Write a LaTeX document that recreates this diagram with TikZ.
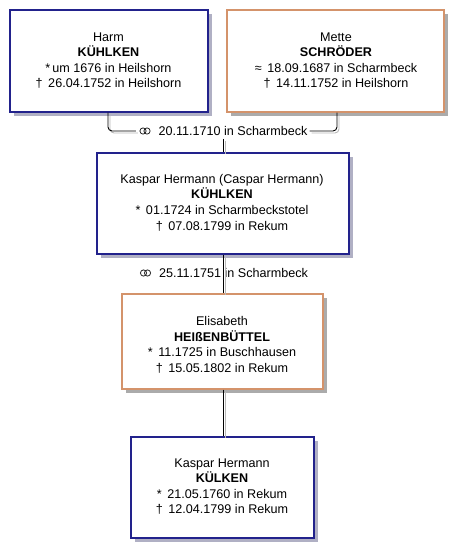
\documentclass[tikz,border=0pt]{standalone}
\usepackage{fontspec}
\setmainfont{Liberation Sans}
\usetikzlibrary{shadows}
\definecolor{navy}{HTML}{22228C}
\definecolor{tanline}{HTML}{D4936B}
\definecolor{shadowgray}{HTML}{ABABAB}
\definecolor{shadowblue}{HTML}{B0B0C4}
\definecolor{lineshadow}{HTML}{B8B8B8}
\begin{document}
\begin{tikzpicture}[x=1pt,y=-1pt,
  box/.style={draw, line width=1.2pt, fill=white, inner sep=0pt, anchor=center},
  mbox/.style={box, draw=navy, drop shadow={shadow xshift=3.5pt, shadow yshift=-3.5pt, fill=shadowblue, opacity=1}},
  fbox/.style={box, draw=tanline, drop shadow={shadow xshift=3.5pt, shadow yshift=-3.5pt, fill=shadowgray, opacity=1}},
  txt/.style={align=center, inner sep=0pt, font=\fontsize{12.6}{15.6}\selectfont},
  conn/.style={line width=0.9pt, black},
  connsh/.style={line width=0.9pt, lineshadow, transform canvas={xshift=2pt, yshift=-2pt}},
  ring/.style={draw=black!85, line width=0.8pt},
]
\useasboundingbox (0,0) rectangle (464,558);

% boxes
\node[mbox, minimum width=198pt, minimum height=102pt] (harm) at (109,61) {};
\node[fbox, minimum width=217pt, minimum height=102pt] (mette) at (335.5,61) {};
\node[mbox, minimum width=252pt, minimum height=101pt] (kaspar) at (223,203.5) {};
\node[fbox, minimum width=201pt, minimum height=95pt] (elis) at (222.5,341.5) {};
\node[mbox, minimum width=183pt, minimum height=101pt] (kulken) at (222.5,487.5) {};

% texts
\node[txt] (harmT) at (108.5,60.5) {Harm\\\textbf{KÜHLKEN}\\{*}\,um 1676 in Heilshorn\\† \,26.04.1752 in Heilshorn};
\node[txt] (metteT) at (336,60.5) {Mette\\\textbf{SCHRÖDER}\\≈ \,18.09.1687 in Scharmbeck\\† \,14.11.1752 in Heilshorn};
\node[txt] (kasparT) at (222,202.5) {Kaspar Hermann (Caspar Hermann)\\\textbf{KÜHLKEN}\\{*} \,01.1724 in Scharmbeckstotel\\† \,07.08.1799 in Rekum};
\node[txt] (elisT) at (222,345) {Elisabeth\\\textbf{HEIßENBÜTTEL}\\{*} \,11.1725 in Buschhausen\\† \,15.05.1802 in Rekum};
\node[txt] (kulkenT) at (222,486.5) {Kaspar Hermann\\\textbf{KÜLKEN}\\{*} \,21.05.1760 in Rekum\\† \,12.04.1799 in Rekum};

% marriage labels
\node[txt] (m1) at (233,131) {20.11.1710 in Scharmbeck};
\node[txt] (m2) at (233.5,273) {25.11.1751 in Scharmbeck};

% marriage rings
\foreach \m in {m1,m2} {
  \draw[ring] ([xshift=-15.3pt]\m.west) circle[radius=3.1pt];
  \draw[ring] ([xshift=-11.3pt]\m.west) circle[radius=3.1pt];
}

\coordinate (jl) at ([xshift=-22.5pt]m1.west);
\coordinate (jr) at ([xshift=2pt]m1.east);
\coordinate (jm) at ([yshift=-3pt]kaspar.north |- m1.south);

% connector shadows
\draw[connsh, rounded corners=4pt] ([xshift=-1pt]harm.south) |- (jl);
\draw[connsh, rounded corners=4pt] ([xshift=1.5pt]mette.south) |- (jr);
\draw[connsh] (jm) -- (kaspar.north);
\draw[connsh] (kaspar.south) -- (elis.north -| kaspar.south);
\draw[connsh] (elis.south -| kaspar.south) -- (kulken.north -| kaspar.south);

% connectors
\draw[conn, rounded corners=4pt] ([xshift=-1pt]harm.south) |- (jl);
\draw[conn, rounded corners=4pt] ([xshift=1.5pt]mette.south) |- (jr);
\draw[conn] (jm) -- (kaspar.north);
\draw[conn] (kaspar.south) -- (elis.north -| kaspar.south);
\draw[conn] (elis.south -| kaspar.south) -- (kulken.north -| kaspar.south);
\end{tikzpicture}
\end{document}
